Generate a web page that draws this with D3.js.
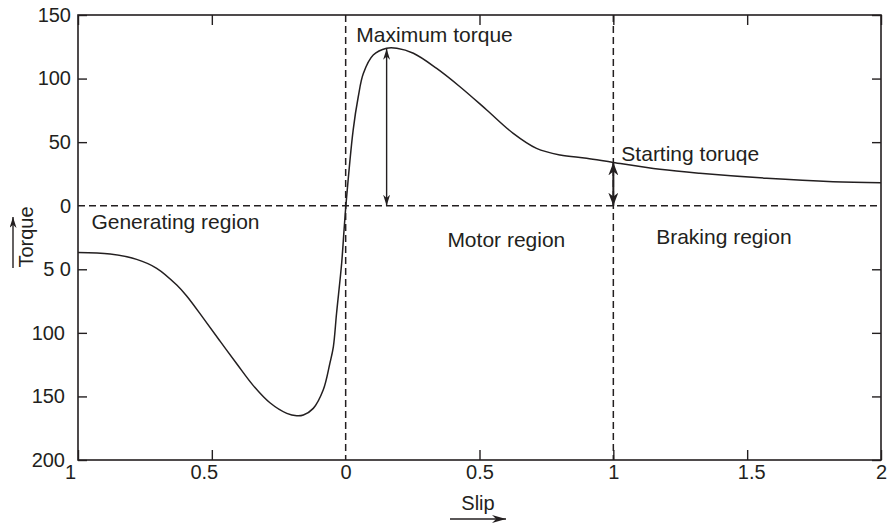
<!DOCTYPE html>
<html><head><meta charset="utf-8">
<script src="https://cdn.jsdelivr.net/npm/d3@7"></script>
<style>
html,body{margin:0;padding:0;background:#fff;}
text{font-family:"Liberation Sans",Arial,sans-serif;fill:#231f20;}
</style></head>
<body>
<svg id="chart" width="888" height="527"></svg>
<script>
// Slip (generating region drawn as negative slip) and torque values
const slip = [-1.0,-0.88,-0.781,-0.706,-0.631,-0.594,-0.532,-0.47,-0.407,-0.345,-0.283,-0.22,-0.183,-0.158,-0.121,-0.084,-0.059,-0.046,-0.034,-0.015,-0.006,0.001,0.028,0.047,0.066,0.103,0.153,0.191,0.253,0.34,0.427,0.527,0.626,0.713,0.801,0.9,1.0,1.174,1.323,1.573,1.821,2.0];
const torque = [-36.7,-38.0,-42.2,-49.2,-62.4,-71.0,-88.4,-106.3,-124.3,-141.5,-155.0,-163.3,-165.2,-164.6,-159.4,-145,-124,-111,-84.6,-45.3,-19,0.5,59.5,85.7,104,118.5,123.8,123.8,119.9,108,93.6,75.3,56.9,45.1,39.9,37.3,34,28.6,25.5,21.6,18.9,18.1];

const xTickValues = [-1,-0.5,0,0.5,1,1.5,2];
const xTickLabels = ["1","0.5","0","0.5","1","1.5","2"];
const yTickValues = [150,100,50,0,-50,-100,-150,-200];
const yTickLabels = ["150","100","50","0","5 0","100","150","200"];

const maxTorqueSlip = 0.153, maxTorqueValue = 123.8;
const startSlip = 1, startTorqueValue = 34;
const regionLabels = [
  {text:"Maximum torque", x:0.04, y:128.5},
  {text:"Starting toruqe", x:1.03, y:35.5},
  {text:"Generating region", x:-0.95, y:-18.5},
  {text:"Motor region", x:0.38, y:-32.5},
  {text:"Braking region", x:1.16, y:-30}
];

const svg = d3.select("#chart");
const L = 78, R = 881, T = 15, B = 460;
const x = d3.scaleLinear().domain([-1,2]).range([L,R]);
const y = d3.scaleLinear().domain([-200,150]).range([B,T]);
const ink = "#231f20";

// defs for arrows
const defs = svg.append("defs");
function marker(id, w, h){
  defs.append("marker").attr("id",id).attr("markerUnits","userSpaceOnUse")
    .attr("viewBox",`0 0 ${w} ${h}`).attr("refX",w).attr("refY",h/2)
    .attr("markerWidth",w).attr("markerHeight",h).attr("orient","auto-start-reverse")
    .append("path").attr("d",`M0,0 L${w},${h/2} L0,${h} L${w*0.3},${h/2} Z`).attr("fill",ink);
}
marker("arrS",11,7);
marker("arrL",13,10);
marker("arrX",14,8);

// dashed reference lines
const dash = "7,4";
svg.append("line").attr("x1",L).attr("x2",R).attr("y1",y(0)).attr("y2",y(0))
  .attr("stroke",ink).attr("stroke-width",1.5).attr("stroke-dasharray",dash);
[0,1].forEach(v=>{
  svg.append("line").attr("x1",x(v)).attr("x2",x(v)).attr("y1",T).attr("y2",B)
    .attr("stroke",ink).attr("stroke-width",1.5).attr("stroke-dasharray",dash);
});

// axes
const fs = 20;
const gB = svg.append("g").attr("transform",`translate(0,${B})`)
  .call(d3.axisBottom(x).tickValues(xTickValues).tickSize(-10).tickPadding(5)
    .tickFormat((d,i)=>xTickLabels[i]));
const gT = svg.append("g").attr("transform",`translate(0,${T})`)
  .call(d3.axisTop(x).tickValues(xTickValues).tickSize(-10).tickFormat(""));
const gL = svg.append("g").attr("transform",`translate(${L},0)`)
  .call(d3.axisLeft(y).tickValues(yTickValues).tickSize(-9).tickPadding(7)
    .tickFormat((d,i)=>yTickLabels[i]));
const gR = svg.append("g").attr("transform",`translate(${R},0)`)
  .call(d3.axisRight(y).tickValues(yTickValues).tickSize(-9).tickFormat(""));
[gB,gT,gL,gR].forEach(g=>{
  g.select(".domain").remove();
  g.selectAll("line").attr("stroke",ink).attr("stroke-width",1.4);
  g.selectAll("text").attr("font-size",fs).attr("font-family",'"Liberation Sans",Arial,sans-serif').attr("fill",ink);
  g.selectAll(".tick").filter(d=>d===0).select("line").remove();
});
gB.selectAll(".tick text").attr("dx",d=>d<0?-8:(d===1.5?4:0));
gL.selectAll(".tick text").attr("dx",d=>d<=-100?-6:0);

// frame
svg.append("rect").attr("x",L).attr("y",T).attr("width",R-L).attr("height",B-T)
  .attr("fill","none").attr("stroke",ink).attr("stroke-width",1.6);

// curve
const pts = slip.map((s,i)=>[s,torque[i]]);
svg.append("path").datum(pts)
  .attr("d",d3.line().x(d=>x(d[0])).y(d=>y(d[1])).curve(d3.curveCatmullRom.alpha(0.5)))
  .attr("fill","none").attr("stroke",ink).attr("stroke-width",1.5);

// annotation arrows
svg.append("line").attr("x1",x(maxTorqueSlip)).attr("x2",x(maxTorqueSlip))
  .attr("y1",y(0)).attr("y2",y(maxTorqueValue)+0.5)
  .attr("stroke",ink).attr("stroke-width",1.4)
  .attr("marker-start","url(#arrS)").attr("marker-end","url(#arrS)");
svg.append("line").attr("x1",x(startSlip)).attr("x2",x(startSlip))
  .attr("y1",y(0)).attr("y2",y(startTorqueValue))
  .attr("stroke",ink).attr("stroke-width",2)
  .attr("marker-start","url(#arrL)").attr("marker-end","url(#arrL)");

// region texts
svg.selectAll("text.reg").data(regionLabels).enter().append("text").attr("class","reg")
  .attr("x",d=>x(d.x)).attr("y",d=>y(d.y)).attr("font-size",21).text(d=>d.text);

// axis titles
svg.append("text").attr("transform","translate(33,237) rotate(-90)")
  .attr("text-anchor","middle").attr("font-size",fs).text("Torque");
svg.append("line").attr("x1",13).attr("x2",13).attr("y1",268).attr("y2",217)
  .attr("stroke",ink).attr("stroke-width",1.4).attr("marker-end","url(#arrS)");
svg.append("text").attr("x",478).attr("y",510).attr("text-anchor","middle")
  .attr("font-size",fs).text("Slip");
svg.append("line").attr("x1",450).attr("x2",506).attr("y1",519).attr("y2",519)
  .attr("stroke",ink).attr("stroke-width",1.6).attr("marker-end","url(#arrX)");
</script>
</body></html>
